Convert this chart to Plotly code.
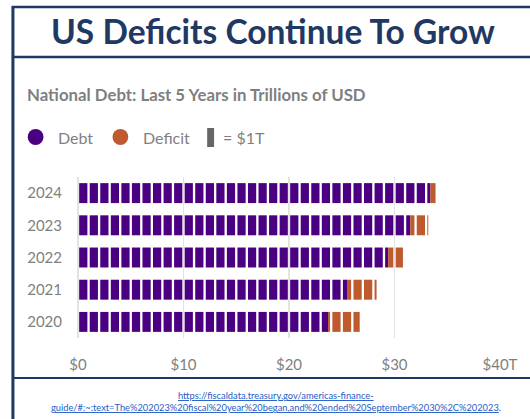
import math
import plotly.graph_objects as go

# ---- data (trillions USD) ----
years = ["2020", "2021", "2022", "2023", "2024"]
debt = [23.7, 25.5, 29.4, 31.5, 33.4]
deficit = [3.0, 2.8, 1.4, 1.7, 0.6]

x_ticks = [0, 10, 20, 30, 40]
x_tick_labels = ["$0", "$10", "$20", "$30", "$40T"]

PURPLE = "#4B0082"
ORANGE = "#BE5A2E"
NAVY = "#1F3864"
GRAY = "#7F7F7F"
GAP = 0.11  # half gap between $1T blocks (style)

# build $1T blocks from data
seg = {"Debt": {"y": [], "base": [], "x": []}, "Deficit": {"y": [], "base": [], "x": []}}
for yr, d, f in zip(years, debt, deficit):
    total = d + f
    for k in range(math.ceil(total)):
        s = k + GAP
        e = min(k + 1 - GAP, total)
        if e <= s:
            continue
        if e <= d:
            parts = [("Debt", s, e)]
        elif s >= d:
            parts = [("Deficit", s, e)]
        else:
            parts = [("Debt", s, d), ("Deficit", d, e)]
        for name, a, b in parts:
            seg[name]["y"].append(yr)
            seg[name]["base"].append(a)
            seg[name]["x"].append(b - a)

fig = go.Figure()
for name, col in [("Debt", PURPLE), ("Deficit", ORANGE)]:
    fig.add_trace(go.Bar(
        orientation="h", y=seg[name]["y"], x=seg[name]["x"], base=seg[name]["base"],
        marker=dict(color=col, line=dict(width=0)), width=0.62, name=name,
        showlegend=False, hoverinfo="skip"))

L, R, T, B = 78, 506, 177, 338  # plot area in page pixels
W, H = R - L, B - T

fig.update_layout(
    width=530, height=419, autosize=False,
    margin=dict(l=L, r=530 - R, t=T, b=419 - B),
    paper_bgcolor="white", plot_bgcolor="white",
    barmode="overlay",
    font=dict(family="Lato", color=GRAY),
    xaxis=dict(range=[0, 40], tickvals=x_ticks, ticktext=x_tick_labels,
               showgrid=True, gridcolor="#E3E3E3", gridwidth=1.5,
               zeroline=True, zerolinecolor="#E3E3E3", zerolinewidth=1.5,
               showline=False, ticks="outside", ticklen=13, tickcolor="rgba(0,0,0,0)",
               tickfont=dict(size=15, color=GRAY), fixedrange=True),
    yaxis=dict(categoryorder="array", categoryarray=years, range=[-0.5, 4.5],
               showgrid=False, zeroline=False, showline=False, ticks="",
               tickfont=dict(size=15, color=GRAY), ticklabelstandoff=15,
               fixedrange=True),
)


def px(x):
    return (x - L) / W


def py(y):
    return (B - y) / H


shapes = [
    dict(type="line", x0=px(11), x1=px(540), y0=py(7), y1=py(7), line=dict(color=NAVY, width=2.5)),
    dict(type="line", x0=px(11), x1=px(540), y0=py(57), y1=py(57), line=dict(color=NAVY, width=2.5)),
    dict(type="line", x0=px(11), x1=px(540), y0=py(378), y1=py(378), line=dict(color=NAVY, width=2)),
    dict(type="line", x0=px(12), x1=px(12), y0=py(6), y1=py(430), line=dict(color=NAVY, width=3)),
    # legend markers
    dict(type="circle", x0=px(27), x1=px(43), y0=py(145), y1=py(129),
         fillcolor=PURPLE, line=dict(width=0)),
    dict(type="circle", x0=px(113), x1=px(129), y0=py(145), y1=py(129),
         fillcolor=ORANGE, line=dict(width=0)),
    dict(type="rect", x0=px(209), x1=px(216), y0=py(147), y1=py(128),
         fillcolor="#666666", line=dict(width=0)),
]
for s in shapes:
    s.update(xref="paper", yref="paper")
fig.update_layout(shapes=shapes)

LINK = "#1F5BC6"
ann = [
    dict(text="<b>US Deficits Continue To Grow</b>", x=px(276), y=py(31), xanchor="center",
         yanchor="middle", font=dict(size=33.5, color=NAVY)),
    dict(text="<b>National Debt: Last 5 Years in Trillions of USD</b>", x=px(24), y=py(95),
         xanchor="left", yanchor="middle", font=dict(size=16.8, color=GRAY)),
    dict(text="Debt", x=px(56), y=py(137), xanchor="left", yanchor="middle",
         font=dict(size=16, color=GRAY)),
    dict(text="Deficit", x=px(142), y=py(137), xanchor="left", yanchor="middle",
         font=dict(size=16, color=GRAY)),
    dict(text="= $1T", x=px(223), y=py(137), xanchor="left", yanchor="middle",
         font=dict(size=16, color=GRAY)),
    dict(text='<a href="https://fiscaldata.treasury.gov/americas-finance-guide/" style="color:' + LINK + '">'
              '<u>https://fiscaldata.treasury.gov/americas-finance-</u></a>',
         x=px(279), y=py(395), xanchor="center", yanchor="middle",
         font=dict(size=9.3, color=LINK, family="Lato")),
    dict(text='<a href="https://fiscaldata.treasury.gov/americas-finance-guide/" style="color:' + LINK + '">'
              '<u>guide/#:~:text=The%202023%20fiscal%20year%20began,and%20ended%20September%2030%2C%202023</u></a>'
              '<span style="color:#333333">.</span>',
         x=px(279), y=py(407), xanchor="center", yanchor="middle",
         font=dict(size=9.3, color=LINK, family="Lato")),
]
for a in ann:
    a.update(xref="paper", yref="paper", showarrow=False)
fig.update_layout(annotations=ann)

fig.write_html("out.html",
               config={"displayModeBar": False, "staticPlot": True},
               post_script="document.body.style.margin='0';document.documentElement.style.overflow='hidden';")
